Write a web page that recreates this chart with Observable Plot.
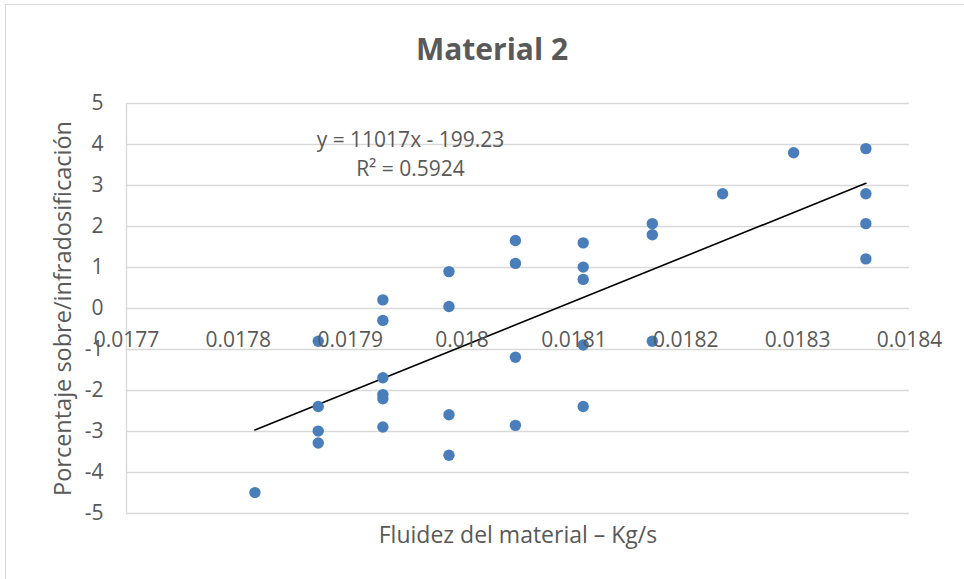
<!DOCTYPE html>
<html>
<head>
<meta charset="utf-8">
<script src="https://cdn.jsdelivr.net/npm/d3@7"></script>
<script src="https://cdn.jsdelivr.net/npm/@observablehq/plot@0.6"></script>
<style>
  html, body { margin: 0; padding: 0; background: #fff; overflow: hidden; }
  #wrap { position: relative; width: 964px; height: 579px; }
  #border { position: absolute; left: 5px; top: 4px; width: 980px; height: 600px;
            border-left: 1.5px solid #d9d9d9; border-top: 1.5px solid #d9d9d9; pointer-events: none; }
</style>
</head>
<body>
<div id="wrap"><div id="chart"></div><div id="border"></div></div>
<script>
// Data
const flujo = [
  0.0178148,
  0.0178714, 0.0178714, 0.0178714, 0.0178714,
  0.0179292, 0.0179292, 0.0179292, 0.0179292, 0.0179292, 0.0179292,
  0.0179883, 0.0179883, 0.0179883, 0.0179883,
  0.0180477, 0.0180477, 0.0180477, 0.0180477,
  0.0181083, 0.0181083, 0.0181083, 0.0181083, 0.0181083,
  0.0181701, 0.0181701, 0.0181701,
  0.0182329,
  0.0182964,
  0.0183610, 0.0183610, 0.0183610, 0.0183610
];
const porcentaje = [
  -4.49,
  -0.80, -2.39, -2.99, -3.28,
  0.21, -0.29, -1.69, -2.10, -2.20, -2.89,
  0.90, 0.05, -2.59, -3.58,
  1.66, 1.10, -1.19, -2.85,
  1.60, 1.01, 0.71, -0.89, -2.39,
  2.07, 1.80, -0.80,
  2.80,
  3.80,
  3.90, 2.80, 2.07, 1.21
];
const xTicks = [0.0177, 0.0178, 0.0179, 0.0180, 0.0181, 0.0182, 0.0183, 0.0184];
const xTickLabels = ["0.0177", "0.0178", "0.0179", "0.018", "0.0181", "0.0182", "0.0183", "0.0184"];
const yTicks = [-5, -4, -3, -2, -1, 0, 1, 2, 3, 4, 5];
const slope = 11017;
const intercept = -199.23;
const equationLabels = ["y = 11017x - 199.23", "R² = 0.5924"];
const title = "Material 2";
const xTitle = "Fluidez del material – Kg/s";
const yTitle = "Porcentaje sobre/infradosificación";

const points = flujo.map((x, i) => ({x, y: porcentaje[i]}));
const [xMin, xMax] = d3.extent(flujo);
const trend = [xMin, xMax].map(x => ({x, y: slope * x + intercept}));

const textColor = "#595959";
const gridColor = "#d9d9d9";
const font = "'Open Sans', 'Noto Sans', sans-serif";

const chart = Plot.plot({
  width: 964,
  height: 579,
  marginLeft: 126,
  marginRight: 55,
  marginTop: 103,
  marginBottom: 66,
  style: {fontFamily: font, background: "white", color: textColor, overflow: "visible"},
  x: {domain: [xTicks[0], xTicks[xTicks.length - 1]], axis: null},
  y: {domain: [yTicks[0], yTicks[yTicks.length - 1]], axis: null},
  marks: [
    Plot.gridY(yTicks, {stroke: gridColor, strokeOpacity: 1, strokeWidth: 1.4}),
    Plot.ruleX([xTicks[0]], {stroke: gridColor, strokeOpacity: 1, strokeWidth: 1.4}),
    Plot.axisY(yTicks, {tickSize: 0, tickPadding: 23, fontSize: 21, fill: textColor, label: null, tickFormat: d => String(d)}),
    Plot.line(trend, {x: "x", y: "y", stroke: "black", strokeWidth: 1.6}),
    Plot.dot(points, {x: "x", y: "y", r: 5.7, fill: "#4a7ebb", stroke: "none"}),
    Plot.text(xTicks, {x: d => d, y: () => 0, text: (d, i) => xTickLabels[i], dy: 32, fontSize: 21, fill: textColor}),
    Plot.text([equationLabels[0]], {frameAnchor: "top-left", textAnchor: "middle", lineAnchor: "middle", dx: 284, dy: 37, fontSize: 21, fill: textColor}),
    Plot.text([equationLabels[1]], {frameAnchor: "top-left", textAnchor: "middle", lineAnchor: "middle", dx: 284, dy: 66, fontSize: 21, fill: textColor}),
    Plot.text([title], {frameAnchor: "top", lineAnchor: "middle", dx: -26, dy: -53, fontSize: 30, fontWeight: "bold", fill: textColor}),
    Plot.text([xTitle], {frameAnchor: "bottom", lineAnchor: "middle", dx: 0, dy: 22, fontSize: 23, fill: textColor}),
    Plot.text([yTitle], {frameAnchor: "left", textAnchor: "middle", lineAnchor: "middle", dx: -63, rotate: -90, fontSize: 23.5, fill: textColor})
  ]
});
document.getElementById("chart").appendChild(chart);
</script>
</body>
</html>
